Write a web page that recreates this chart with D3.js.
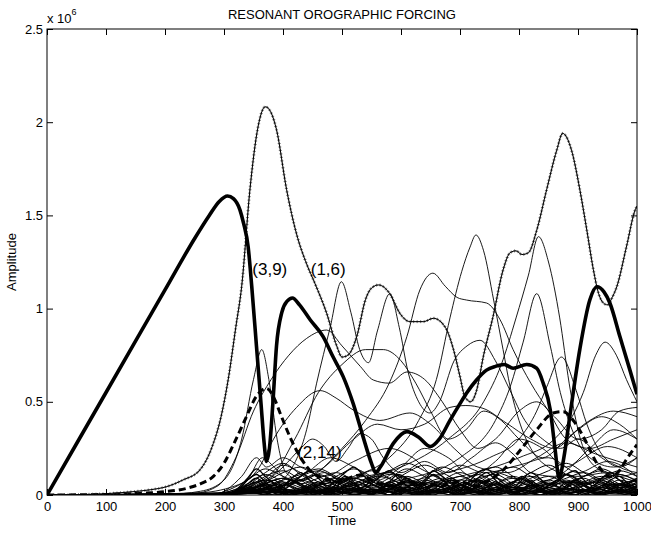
<!DOCTYPE html>
<html><head><meta charset="utf-8">
<script src="https://cdn.jsdelivr.net/npm/d3@7"></script>
<style>
body{margin:0;background:#fff;}
svg{display:block;font-family:"Liberation Sans",Arial,sans-serif;}
</style></head>
<body><svg id="c" width="651" height="533"></svg>
<script>
// ---- data (time, amplitude in units of 1e6) ----
const xTicks = [0,100,200,300,400,500,600,700,800,900,1000];
const yTicks = [0,0.5,1,1.5,2,2.5];
const titleText = "RESONANT OROGRAPHIC FORCING";
const xLabel = "Time";
const yLabel = "Amplitude";

// (3,9) thick solid
const mode39 = [[0,0],[100,0.55],[200,1.10],[250,1.375],[275,1.5],[292,1.575],[306,1.604],[316,1.59],[327,1.53],[333,1.46],[341,1.33],[347,1.12],[355,0.8],[363,0.48],[368,0.28],[372,0.18],[377,0.25],[383,0.5],[389,0.8],[398,0.98],[407,1.04],[416,1.057],[428,1.02],[446,0.94],[468,0.85],[485,0.74],[502,0.635],[519,0.49],[535,0.32],[550,0.17],[557,0.12],[565,0.15],[587,0.277],[610,0.34],[630,0.31],[650,0.26],[665,0.3],[683,0.40],[700,0.49],[711,0.546],[728,0.617],[745,0.67],[760,0.69],[775,0.70],[790,0.68],[813,0.70],[830,0.68],[841,0.60],[853,0.456],[861,0.25],[868,0.09],[876,0.2],[886,0.42],[903,0.78],[920,1.046],[932,1.117],[944,1.09],[954,1.03],[971,0.85],[988,0.67],[1000,0.54]];

// (1,6) line with + markers
const mode16 = [[0,0],[50,0.002],[100,0.007],[146,0.018],[175,0.028],[203,0.045],[230,0.08],[259,0.134],[280,0.26],[295,0.42],[307,0.617],[320,0.9],[330,1.12],[344,1.64],[358,1.98],[370,2.083],[380,2.05],[389,1.96],[406,1.64],[423,1.40],[440,1.24],[454,1.136],[474,0.975],[491,0.80],[500,0.74],[510,0.75],[525,0.85],[540,1.05],[550,1.11],[562,1.127],[581,1.08],[598,0.975],[615,0.93],[638,0.93],[655,0.948],[675,0.90],[689,0.78],[700,0.635],[708,0.53],[718,0.50],[728,0.56],[740,0.75],[756,0.957],[773,1.207],[785,1.30],[795,1.31],[805,1.29],[816,1.30],[830,1.42],[847,1.64],[864,1.85],[874,1.94],[889,1.85],[903,1.64],[915,1.42],[926,1.21],[935,1.08],[943,1.03],[950,1.02],[958,1.06],[966,1.12],[982,1.33],[997,1.53],[1000,1.55]];

// (2,14) dashed
const mode214 = [[0,0],[100,0.003],[150,0.008],[200,0.018],[237,0.036],[260,0.06],[282,0.10],[300,0.17],[316,0.27],[338,0.42],[355,0.53],[372,0.572],[385,0.52],[395,0.44],[412,0.31],[429,0.205],[451,0.116],[470,0.09],[490,0.07],[510,0.09],[531,0.107],[555,0.07],[580,0.05],[610,0.07],[640,0.06],[670,0.05],[700,0.07],[730,0.05],[750,0.08],[773,0.134],[802,0.24],[830,0.35],[858,0.44],[875,0.447],[892,0.40],[915,0.277],[932,0.17],[954,0.098],[970,0.13],[982,0.19],[1000,0.27]];

// other modes, thin solid
const thinL1 = [[0,0],[200,0.003],[260,0.02],[300,0.08],[330,0.3],[350,0.62],[364,0.78],[376,0.62],[390,0.3],[405,0.12],[430,0.08],[470,0.12],[510,0.06],[560,0.1],[620,0.05],[700,0.08],[800,0.04],[900,0.07],[1000,0.04]];
const thinL2 = [[0,0],[250,0.01],[290,0.05],[320,0.2],[350,0.45],[380,0.62],[410,0.75],[440,0.84],[474,0.885],[500,0.8],[531,0.69],[553,0.617],[580,0.6],[610,0.66],[640,0.62],[670,0.5],[700,0.35],[730,0.25],[760,0.3],[800,0.45],[830,0.5],[860,0.42],[900,0.3],[940,0.35],[970,0.45],[1000,0.47]];
const thinL3 = [[0,0],[250,0.005],[330,0.02],[380,0.05],[410,0.12],[440,0.35],[457,0.6],[480,0.9],[499,1.144],[515,0.98],[530,0.78],[545,0.71],[560,0.88],[581,1.08],[597,0.9],[612,0.66],[630,0.5],[649,0.44],[665,0.5],[690,0.72],[712,0.8],[734,0.83],[760,0.72],[785,0.56],[810,0.4],[840,0.3],[870,0.25],[900,0.3],[940,0.2],[970,0.15],[1000,0.2]];
const thinL4 = [[0,0],[300,0.01],[400,0.05],[450,0.1],[500,0.25],[540,0.4],[580,0.6],[610,0.85],[632,1.10],[654,1.19],[675,1.12],[695,1.06],[711,1.046],[745,1.03],[768,0.94],[790,0.78],[820,0.6],[850,0.45],[880,0.3],[920,0.25],[960,0.3],[1000,0.35]];
const thinL5 = [[0,0],[350,0.01],[450,0.05],[520,0.1],[580,0.2],[630,0.4],[660,0.62],[683,0.95],[703,1.2],[717,1.33],[727,1.395],[740,1.31],[757,1.046],[773,0.78],[785,0.58],[800,0.4],[820,0.25],[850,0.15],[900,0.1],[950,0.12],[1000,0.08]];
const thinL6 = [[0,0],[400,0.02],[500,0.08],[600,0.15],[680,0.3],[740,0.5],[770,0.7],[795,0.95],[816,1.18],[833,1.386],[850,1.25],[869,0.95],[885,0.6],[900,0.35],[930,0.15],[970,0.1],[1000,0.12]];
const thinL7 = [[0,0],[450,0.02],[600,0.08],[700,0.2],[760,0.4],[785,0.58],[807,0.82],[830,1.08],[853,0.8],[870,0.55],[890,0.35],[920,0.2],[960,0.15],[1000,0.2]];
const thinL8 = [[0,0],[500,0.02],[650,0.1],[750,0.2],[800,0.3],[830,0.45],[847,0.58],[872,0.74],[897,0.56],[915,0.38],[940,0.22],[970,0.15],[1000,0.12]];
const thinL9 = [[0,0],[500,0.02],[700,0.1],[800,0.2],[860,0.3],[890,0.42],[909,0.55],[930,0.75],[946,0.82],[965,0.75],[982,0.62],[1000,0.5]];
const thinL10 = [[0,0],[300,0.01],[380,0.1],[420,0.3],[460,0.55],[500,0.7],[540,0.78],[570,0.78],[600,0.72],[625,0.6],[650,0.45],[680,0.3],[710,0.35],[740,0.45],[770,0.4],[800,0.3],[840,0.2],[880,0.3],[920,0.4],[960,0.45],[1000,0.42]];
const thinL11 = [[0,0],[300,0],[400,0.05],[470,0.15],[520,0.3],[560,0.38],[600,0.35],[640,0.38],[683,0.47],[710,0.48],[739,0.465],[779,0.385],[820,0.3],[860,0.25],[900,0.35],[940,0.42],[970,0.38],[1000,0.3]];
const thinL15 = [[0,0],[250,0.01],[320,0.05],[360,0.15],[384,0.3],[423,0.47],[463,0.56],[490,0.52],[519,0.456],[564,0.40],[615,0.44],[650,0.38],[690,0.25],[730,0.15],[780,0.12],[830,0.2],[880,0.28],[930,0.22],[1000,0.15]];
const thinL17 = [[0,0],[300,0],[360,0.05],[400,0.15],[430,0.25],[450,0.3],[470,0.26],[490,0.18],[510,0.25],[530,0.33],[550,0.3],[570,0.2],[600,0.12],[640,0.18],[680,0.12],[720,0.2],[760,0.28],[790,0.22],[820,0.12],[860,0.1],[900,0.18],[950,0.26],[1000,0.2]];
const thinL18 = [[0,0],[300,0],[340,0.08],[365,0.2],[385,0.15],[410,0.08],[440,0.12],[480,0.2],[520,0.15],[560,0.08],[600,0.15],[640,0.25],[680,0.2],[720,0.1],[760,0.18],[800,0.3],[840,0.25],[880,0.15],[920,0.25],[960,0.35],[1000,0.3]];
const thinL19 = [[0,0],[280,0],[330,0.1],[355,0.2],[372,0.15],[400,0.2],[430,0.15],[470,0.1],[520,0.18],[580,0.25],[620,0.2],[660,0.1],[700,0.16],[740,0.12],[800,0.16],[850,0.2],[900,0.12],[950,0.18],[1000,0.1]];

// low-amplitude modes forming the band (amplitude in 1e6)
const bandTime = [0,200,280,310,340,370,400,430,460,490,520,550,580,610,640,670,700,730,760,790,820,850,880,910,940,970,1000];
const band01 = [0,0,.005,.02,.05,.08,.04,.01,.05,.07,.03,.01,.04,.06,.02,.01,.05,.08,.03,.01,.04,.07,.02,.01,.05,.06,.02];
const band02 = [0,0,.003,.01,.03,.06,.09,.05,.02,.01,.04,.08,.05,.02,.06,.09,.04,.01,.03,.07,.05,.02,.06,.09,.03,.01,.04];
const band03 = [0,0,.002,.01,.04,.1,.13,.08,.03,.05,.09,.06,.02,.04,.08,.05,.01,.03,.06,.1,.06,.03,.02,.05,.08,.04,.06];
const band04 = [0,0,.004,.03,.08,.14,.1,.06,.02,.03,.06,.1,.12,.07,.03,.02,.05,.09,.11,.06,.02,.04,.07,.05,.02,.05,.09];
const band05 = [0,0,.001,.005,.02,.05,.03,.02,.04,.02,.01,.03,.02,.04,.01,.03,.05,.02,.01,.03,.02,.04,.01,.03,.02,.04,.01];
const band06 = [0,0,.002,.01,.03,.07,.12,.15,.1,.05,.03,.07,.11,.09,.04,.02,.06,.12,.15,.1,.04,.02,.05,.1,.13,.08,.04];
const band07 = [0,0,.001,.004,.015,.04,.06,.03,.01,.03,.05,.02,.04,.07,.05,.02,.01,.04,.06,.03,.05,.08,.04,.02,.04,.06,.03];
const band08 = [0,0,.003,.02,.06,.11,.07,.03,.06,.1,.14,.1,.05,.02,.04,.08,.12,.08,.04,.07,.1,.06,.03,.05,.08,.11,.07];
const band09 = [0,0,.001,.006,.02,.035,.02,.01,.025,.04,.02,.01,.03,.015,.005,.02,.04,.025,.01,.03,.02,.01,.035,.02,.01,.025,.015];
const band10 = [0,0,.002,.012,.04,.09,.16,.12,.07,.04,.08,.13,.09,.05,.1,.15,.11,.06,.03,.07,.12,.16,.11,.06,.09,.13,.1];
const band11 = [0,0,.001,.003,.01,.03,.05,.08,.05,.03,.06,.04,.07,.1,.06,.03,.05,.03,.06,.09,.07,.04,.08,.05,.03,.06,.08];
const band12 = [0,0,.002,.008,.025,.06,.04,.08,.11,.07,.04,.02,.05,.03,.07,.04,.02,.06,.09,.05,.02,.06,.03,.07,.1,.06,.03];
const band13 = [0,0,.001,.005,.015,.03,.015,.005,.02,.035,.02,.008,.025,.04,.02,.01,.03,.015,.005,.02,.035,.015,.005,.025,.04,.02,.01];
const band14 = [0,0,.002,.015,.05,.12,.17,.11,.06,.09,.05,.02,.06,.12,.16,.12,.07,.04,.02,.05,.09,.13,.17,.12,.07,.04,.06];
const band15 = [0,0,.001,.004,.012,.02,.01,.025,.012,.005,.018,.03,.015,.006,.02,.01,.025,.012,.004,.016,.028,.012,.005,.02,.01,.022,.008];
const band16 = [0,0,.002,.01,.035,.08,.05,.1,.13,.09,.05,.08,.12,.08,.04,.06,.1,.07,.12,.09,.05,.08,.11,.07,.04,.08,.05];
const band17 = [0,0,.001,.007,.03,.06,.09,.06,.09,.12,.08,.05,.09,.14,.1,.06,.08,.11,.07,.04,.07,.1,.07,.1,.14,.1,.07];
const band18 = [0,0,.001,.003,.008,.015,.03,.02,.008,.02,.012,.004,.015,.025,.01,.02,.008,.018,.03,.015,.006,.02,.01,.025,.012,.005,.015];
const band19 = [0,0,.002,.01,.03,.05,.08,.11,.14,.1,.06,.09,.13,.17,.13,.08,.05,.08,.12,.15,.1,.06,.09,.12,.08,.05,.09];
const band20 = [0,0,.001,.005,.02,.04,.07,.04,.02,.05,.09,.06,.03,.07,.04,.02,.05,.08,.05,.02,.04,.06,.03,.06,.09,.05,.03];

// fast low-amplitude modes (amplitude in 1e4)
const fineTime = [0,250,310,325,340,355,370,385,400,415,430,445,460,475,490,505,520,535,550,565,580,595,610,625,640,655,670,685,700,715,730,745,760,775,790,805,820,835,850,865,880,895,910,925,940,955,970,985,1000];
const fine01 = [0,0,1,3,5,2,0,3,6,4,1,2,5,3,0,2,4,6,3,1,3,5,2,0,2,5,4,1,3,6,3,1,2,4,2,0,3,5,3,1,4,6,3,1,2,5,3,1,2];
const fine02 = [0,0,0,1,2,4,6,3,1,0,2,5,7,4,2,1,3,2,0,4,7,5,2,1,3,6,4,1,0,2,5,3,6,4,1,2,5,3,0,1,4,7,5,2,0,3,6,4,2];
const fine03 = [0,0,0,1,3,2,4,1,0,2,3,1,0,3,4,2,0,1,3,2,0,2,4,3,1,0,2,3,1,2,4,2,0,1,3,4,1,0,2,3,1,0,2,4,3,1,2,3,1];
const fine04 = [0,0,1,2,6,9,5,2,4,8,5,2,1,4,7,9,6,3,1,3,6,4,8,5,2,3,7,9,6,2,1,4,7,5,3,6,8,4,2,1,5,8,6,3,5,7,4,2,5];
const fine05 = [0,0,0,1,1,2,1,0,1,2,1,0,1,2,3,1,0,1,2,1,0,2,1,0,1,2,1,0,2,3,1,0,1,2,1,0,1,2,1,0,2,3,1,0,1,2,1,0,1];
const fine06 = [0,0,0,2,4,3,6,8,4,1,3,6,3,1,4,8,6,2,0,3,5,2,4,7,5,2,1,4,6,3,5,8,5,2,0,3,6,4,1,3,7,5,2,4,6,3,1,3,5];
const fine07 = [0,0,0,1,2,3,2,3,2,1,2,3,2,1,2,4,3,1,2,3,2,1,3,2,1,2,3,4,2,1,2,3,2,1,3,2,1,2,4,3,1,2,3,2,1,2,3,2,1];
const fine08 = [0,0,1,3,8,11,7,3,5,9,12,8,4,2,6,10,7,3,6,10,13,9,5,3,7,11,8,4,2,5,9,12,8,4,6,10,7,3,5,8,11,9,5,2,4,8,10,6,4];
const fine09 = [0,0,0,1,3,1,0,2,1,0,1,3,2,0,1,2,0,1,3,2,0,1,2,1,0,2,3,1,0,1,2,1,3,2,0,1,2,0,1,3,1,0,2,1,0,1,2,1,0];
const fine10 = [0,0,0,2,5,7,4,2,5,8,6,3,5,9,7,4,2,4,7,5,3,6,9,6,3,2,5,8,6,4,7,5,2,4,7,9,6,3,5,8,6,3,2,5,7,4,3,6,8];
const fine11 = [0,0,0,1,2,1,3,5,3,1,2,4,2,0,2,5,4,2,1,3,2,0,2,4,3,1,2,5,3,1,0,2,4,2,1,3,5,3,1,2,4,2,0,2,4,3,1,2,3];
const fine12 = [0,0,1,4,9,14,10,6,3,6,10,13,9,5,8,12,15,11,6,4,7,11,9,5,8,13,10,6,3,7,12,14,10,6,4,8,12,9,5,7,11,13,8,5,9,12,8,5,7];

const modeLabels = [["(3,9)",348,1.18],["(1,6)",447,1.18],["(2,14)",424,0.20]];

// ---- drawing ----
const svg = d3.select("#c");
const L = 47, R = 637, T = 29, B = 495;
const x = d3.scaleLinear().domain([0,1000]).range([L,R]);
const y = d3.scaleLinear().domain([0,2.5]).range([B,T]);

svg.append("defs").append("clipPath").attr("id","clip")
  .append("rect").attr("x",L).attr("y",T).attr("width",R-L).attr("height",B-T);

const plot = svg.append("g").attr("clip-path","url(#clip)");
const line = d3.line().x(d=>x(d[0])).y(d=>y(d[1])).curve(d3.curveMonotoneX);

const fines = [fine01,fine02,fine03,fine04,fine05,fine06,fine07,fine08,fine09,fine10,fine11,fine12];
fines.forEach(f=>{
  plot.append("path").datum(fineTime.map((t,i)=>[t,f[i]/100]))
    .attr("d",line).attr("fill","none").attr("stroke","#000").attr("stroke-width",1.3);
});

const bands = [band01,band02,band03,band04,band05,band06,band07,band08,band09,band10,
               band11,band12,band13,band14,band15,band16,band17,band18,band19,band20];
bands.forEach(b=>{
  plot.append("path").datum(bandTime.map((t,i)=>[t,b[i]]))
    .attr("d",line).attr("fill","none").attr("stroke","#000").attr("stroke-width",1);
});

const thins = [thinL1,thinL2,thinL3,thinL4,thinL5,thinL6,thinL7,thinL8,thinL9,thinL10,thinL11,thinL15,thinL17,thinL18,thinL19];
thins.forEach(s=>{
  plot.append("path").datum(s).attr("d",line)
    .attr("fill","none").attr("stroke","#000").attr("stroke-width",0.9);
});

plot.append("path").datum(mode214).attr("d",line)
  .attr("fill","none").attr("stroke","#000").attr("stroke-width",3)
  .attr("stroke-dasharray","7,4");

// (1,6): markers first, then the black line over them
const dotD = line(mode16);
const tmp = plot.append("path").attr("d",dotD).attr("fill","none").attr("stroke","none");
const node = tmp.node();
const len = node.getTotalLength();
const marks = plot.append("g").attr("stroke","#444").attr("stroke-width",0.7);
for (let s=0; s<=len; s+=3.5){
  const p = node.getPointAtLength(s);
  marks.append("path").attr("d",`M${p.x-1.5},${p.y}H${p.x+1.5}M${p.x},${p.y-1.5}V${p.y+1.5}`);
}
plot.append("path").attr("d",dotD).attr("fill","none").attr("stroke","#000").attr("stroke-width",1);

plot.append("path").datum(mode39).attr("d",line)
  .attr("fill","none").attr("stroke","#000").attr("stroke-width",3.6)
  .attr("stroke-linejoin","round");

// mode labels
svg.selectAll("text.ml").data(modeLabels).enter().append("text")
  .attr("class","ml").attr("x",d=>x(d[1])).attr("y",d=>y(d[2]))
  .attr("font-size",17).attr("fill","#000").text(d=>d[0]);

// axes
const fs = 13;
const gx = svg.append("g").attr("transform",`translate(0,${B})`)
  .call(d3.axisBottom(x).tickValues(xTicks).tickSizeInner(-6).tickSizeOuter(0).tickPadding(7).tickFormat(d3.format("d")));
const gxt = svg.append("g").attr("transform",`translate(0,${T})`)
  .call(d3.axisTop(x).tickValues(xTicks).tickSizeInner(-6).tickSizeOuter(0).tickFormat(""));
const gy = svg.append("g").attr("transform",`translate(${L},0)`)
  .call(d3.axisLeft(y).tickValues(yTicks).tickSizeInner(-6).tickSizeOuter(0).tickPadding(4).tickFormat(d=>String(d)));
const gyr = svg.append("g").attr("transform",`translate(${R},0)`)
  .call(d3.axisRight(y).tickValues(yTicks).tickSizeInner(-6).tickSizeOuter(0).tickFormat(""));
[gx,gxt,gy,gyr].forEach(g=>{
  g.select(".domain").remove();
  g.selectAll("line").attr("stroke","#000");
  g.selectAll("text").attr("font-size",fs).attr("fill","#000").attr("font-family","Liberation Sans, Arial, sans-serif");
});
svg.append("rect").attr("x",L).attr("y",T).attr("width",R-L).attr("height",B-T)
  .attr("fill","none").attr("stroke","#000").attr("stroke-width",1);

// title, labels, exponent
svg.append("text").attr("x",(L+R)/2).attr("y",19).attr("text-anchor","middle")
  .attr("font-size",fs).text(titleText);
svg.append("text").attr("x",(L+R)/2).attr("y",525).attr("text-anchor","middle")
  .attr("font-size",fs).text(xLabel);
svg.append("text").attr("transform",`translate(16,${(T+B)/2}) rotate(-90)`).attr("text-anchor","middle")
  .attr("font-size",fs).text(yLabel);
const ex = svg.append("text").attr("x",47).attr("y",23).attr("font-size",fs);
ex.append("tspan").text("x 10");
ex.append("tspan").attr("dy",-8).attr("font-size",9).text("6");
</script></body></html>
